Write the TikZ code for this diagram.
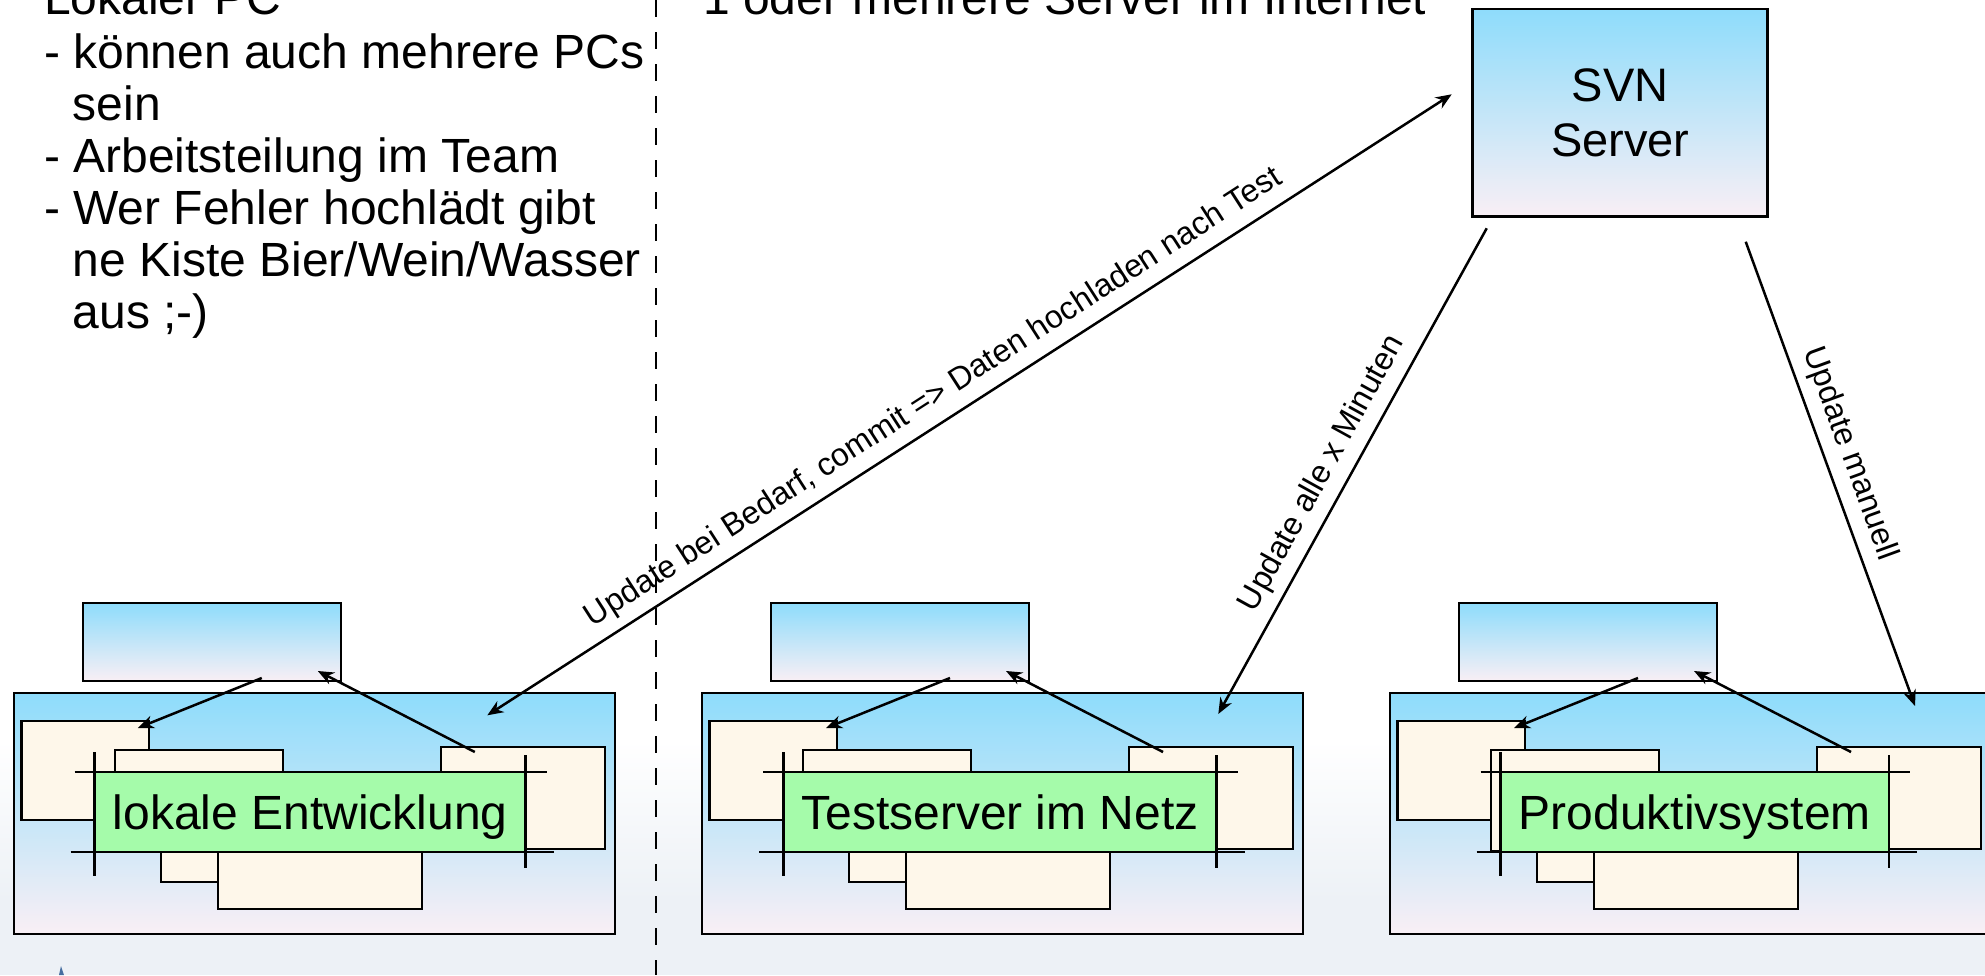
\documentclass[tikz,border=0pt]{standalone}
\usepackage{fontspec}
\setmainfont{Liberation Sans}
\usetikzlibrary{arrows.meta}
\definecolor{skyb}{RGB}{142,220,251}
\definecolor{pinkw}{RGB}{249,239,245}
\definecolor{creamc}{RGB}{254,247,234}
\definecolor{greenl}{RGB}{165,251,170}
\definecolor{bgc}{RGB}{237,241,246}
\definecolor{logob}{RGB}{70,110,160}
\tikzset{
  bx/.style={draw=black, line width=2.6pt, inner sep=0pt, outer sep=0pt, anchor=north west, top color=skyb, bottom color=pinkw},
  cream/.style={draw=black, line width=2.6pt, fill=creamc, inner sep=0pt, outer sep=0pt, anchor=north west},
  glabel/.style={fill=greenl, inner xsep=18pt, inner ysep=0pt, outer sep=0pt, minimum height=80pt, text height=34pt, text depth=0pt, anchor=west, font=\fontsize{48}{56}\selectfont},
  ln/.style={line width=2.6pt},
  conn/.style={line width=2.5pt, -{Stealth[length=16pt,width=13pt]}},
  conntwo/.style={line width=2.5pt, {Stealth[length=16pt,width=13pt]}-{Stealth[length=16pt,width=13pt]}},
  lbl/.style={font=\fontsize{32}{38}\selectfont, sloped, above, inner xsep=0pt, inner ysep=9pt},
  txt/.style={font=\fontsize{48}{52}\selectfont, inner sep=0pt, anchor=base west},
}
\newcommand\pcgroup[4]{%
\begin{scope}[xshift=#1pt]
  \node[bx, minimum width=601pt, minimum height=241pt] (#2big) at (0,693) {};
  \node[bx, minimum width=258pt, minimum height=78pt] (#2top) at (69,603) {};
  \node[cream, minimum width=127.5pt, minimum height=99pt] (#2a) at (7.5,721) {};
  \node[cream, minimum width=168pt, minimum height=101pt] (#2b) at (101,750) {};
  \node[cream, minimum width=153pt, minimum height=82pt] (#2c) at (147,800) {};
  \node[cream, minimum width=204pt, minimum height=79pt] (#2d) at (204,830) {};
  \node[cream, minimum width=164pt, minimum height=102pt] (#2e) at (427,747) {};
  \node[glabel] (#2lbl) at (#4,812) {#3};
  \draw[ln] ([xshift=-20pt]#2lbl.north west) -- ([xshift=21pt]#2lbl.north east);
  \draw[ln] ([xshift=-24pt]#2lbl.south west) -- ([xshift=28pt]#2lbl.south east);
  \draw[ln] ([yshift=20pt]#2lbl.north west) -- ([yshift=-24pt]#2lbl.south west);
  \draw[ln] ([yshift=17pt]#2lbl.north east) -- ([yshift=-16pt]#2lbl.south east);
  \coordinate (#2p) at (248,678);
  \coordinate (#2q) at (124,728);
  \coordinate (#2r) at (461,752);
  \coordinate (#2s) at (304,671);
  \draw[conn] (#2p) -- (#2q);
  \draw[conn] (#2r) -- (#2s);
\end{scope}}
\begin{document}
\begin{tikzpicture}[x=1pt, y=-1pt]
  \useasboundingbox (0,0) rectangle (1985,975);
  \clip (0,0) rectangle (1985,975);
  \fill[white] (0,0) rectangle (1985,975);
  \shade[top color=white, bottom color=bgc] (0,740) rectangle (1985,900);
  \fill[bgc] (0,899) rectangle (1985,975);
  \fill[logob] (59,975) -- (61,966) -- (64,975) -- cycle;

  % left text
  \node[txt] (t1) at (44,14) {Lokaler PC};
  \node[txt] (t2) at (44,68) {- können auch mehrere PCs};
  \node[txt] (t3) at (72.5,120) {sein};
  \node[txt] (t4) at (44,172) {- Arbeitsteilung im Team};
  \node[txt] (t5) at (44,224) {- Wer Fehler hochlädt gibt};
  \node[txt] (t6) at (72.5,276) {ne Kiste Bier/Wein/Wasser};
  \node[txt] (t7) at (72.5,328) {aus ;-)};
  \node[txt] (t8) at (703,14.5) {1 oder mehrere Server im Internet};

  % divider
  \coordinate (dtop) at (656,0);
  \coordinate (dbot) at (656,975);
  \draw[ln, dash pattern=on 17pt off 15pt] (dtop) -- (dbot);

  % groups
  \pcgroup{13.8}{ga}{lokale Entwicklung}{80.9}
  \pcgroup{702}{gb}{Testserver im Netz}{81.3}
  \pcgroup{1390}{gc}{Produktivsystem}{110.7}

  % SVN server
  \node[bx, minimum width=295pt, minimum height=207.7pt, align=center, font=\fontsize{47}{54.3}\selectfont] (svn) at (1472.7,9) {SVN\\Server};

  % main connectors
  \coordinate (m1a) at (487.3,715.3);
  \coordinate (m1b) at (1451.7,94.3);
  \draw[conntwo] (m1a) -- node[lbl, pos=0.477] {Update bei Bedarf, commit => Daten hochladen nach Test} (m1b);
  \coordinate (m2a) at (1486.7,228.3);
  \coordinate (m2b) at (1218.3,714);
  \draw[conn] (m2a) -- node[lbl, pos=0.53] {Update alle x Minuten} (m2b);
  \coordinate (m3a) at (1745.7,241.7);
  \coordinate (m3b) at (1915,706);
  \draw[conn] (m3a) -- node[lbl, pos=0.475] {Update manuell} (m3b);
\end{tikzpicture}
\end{document}
